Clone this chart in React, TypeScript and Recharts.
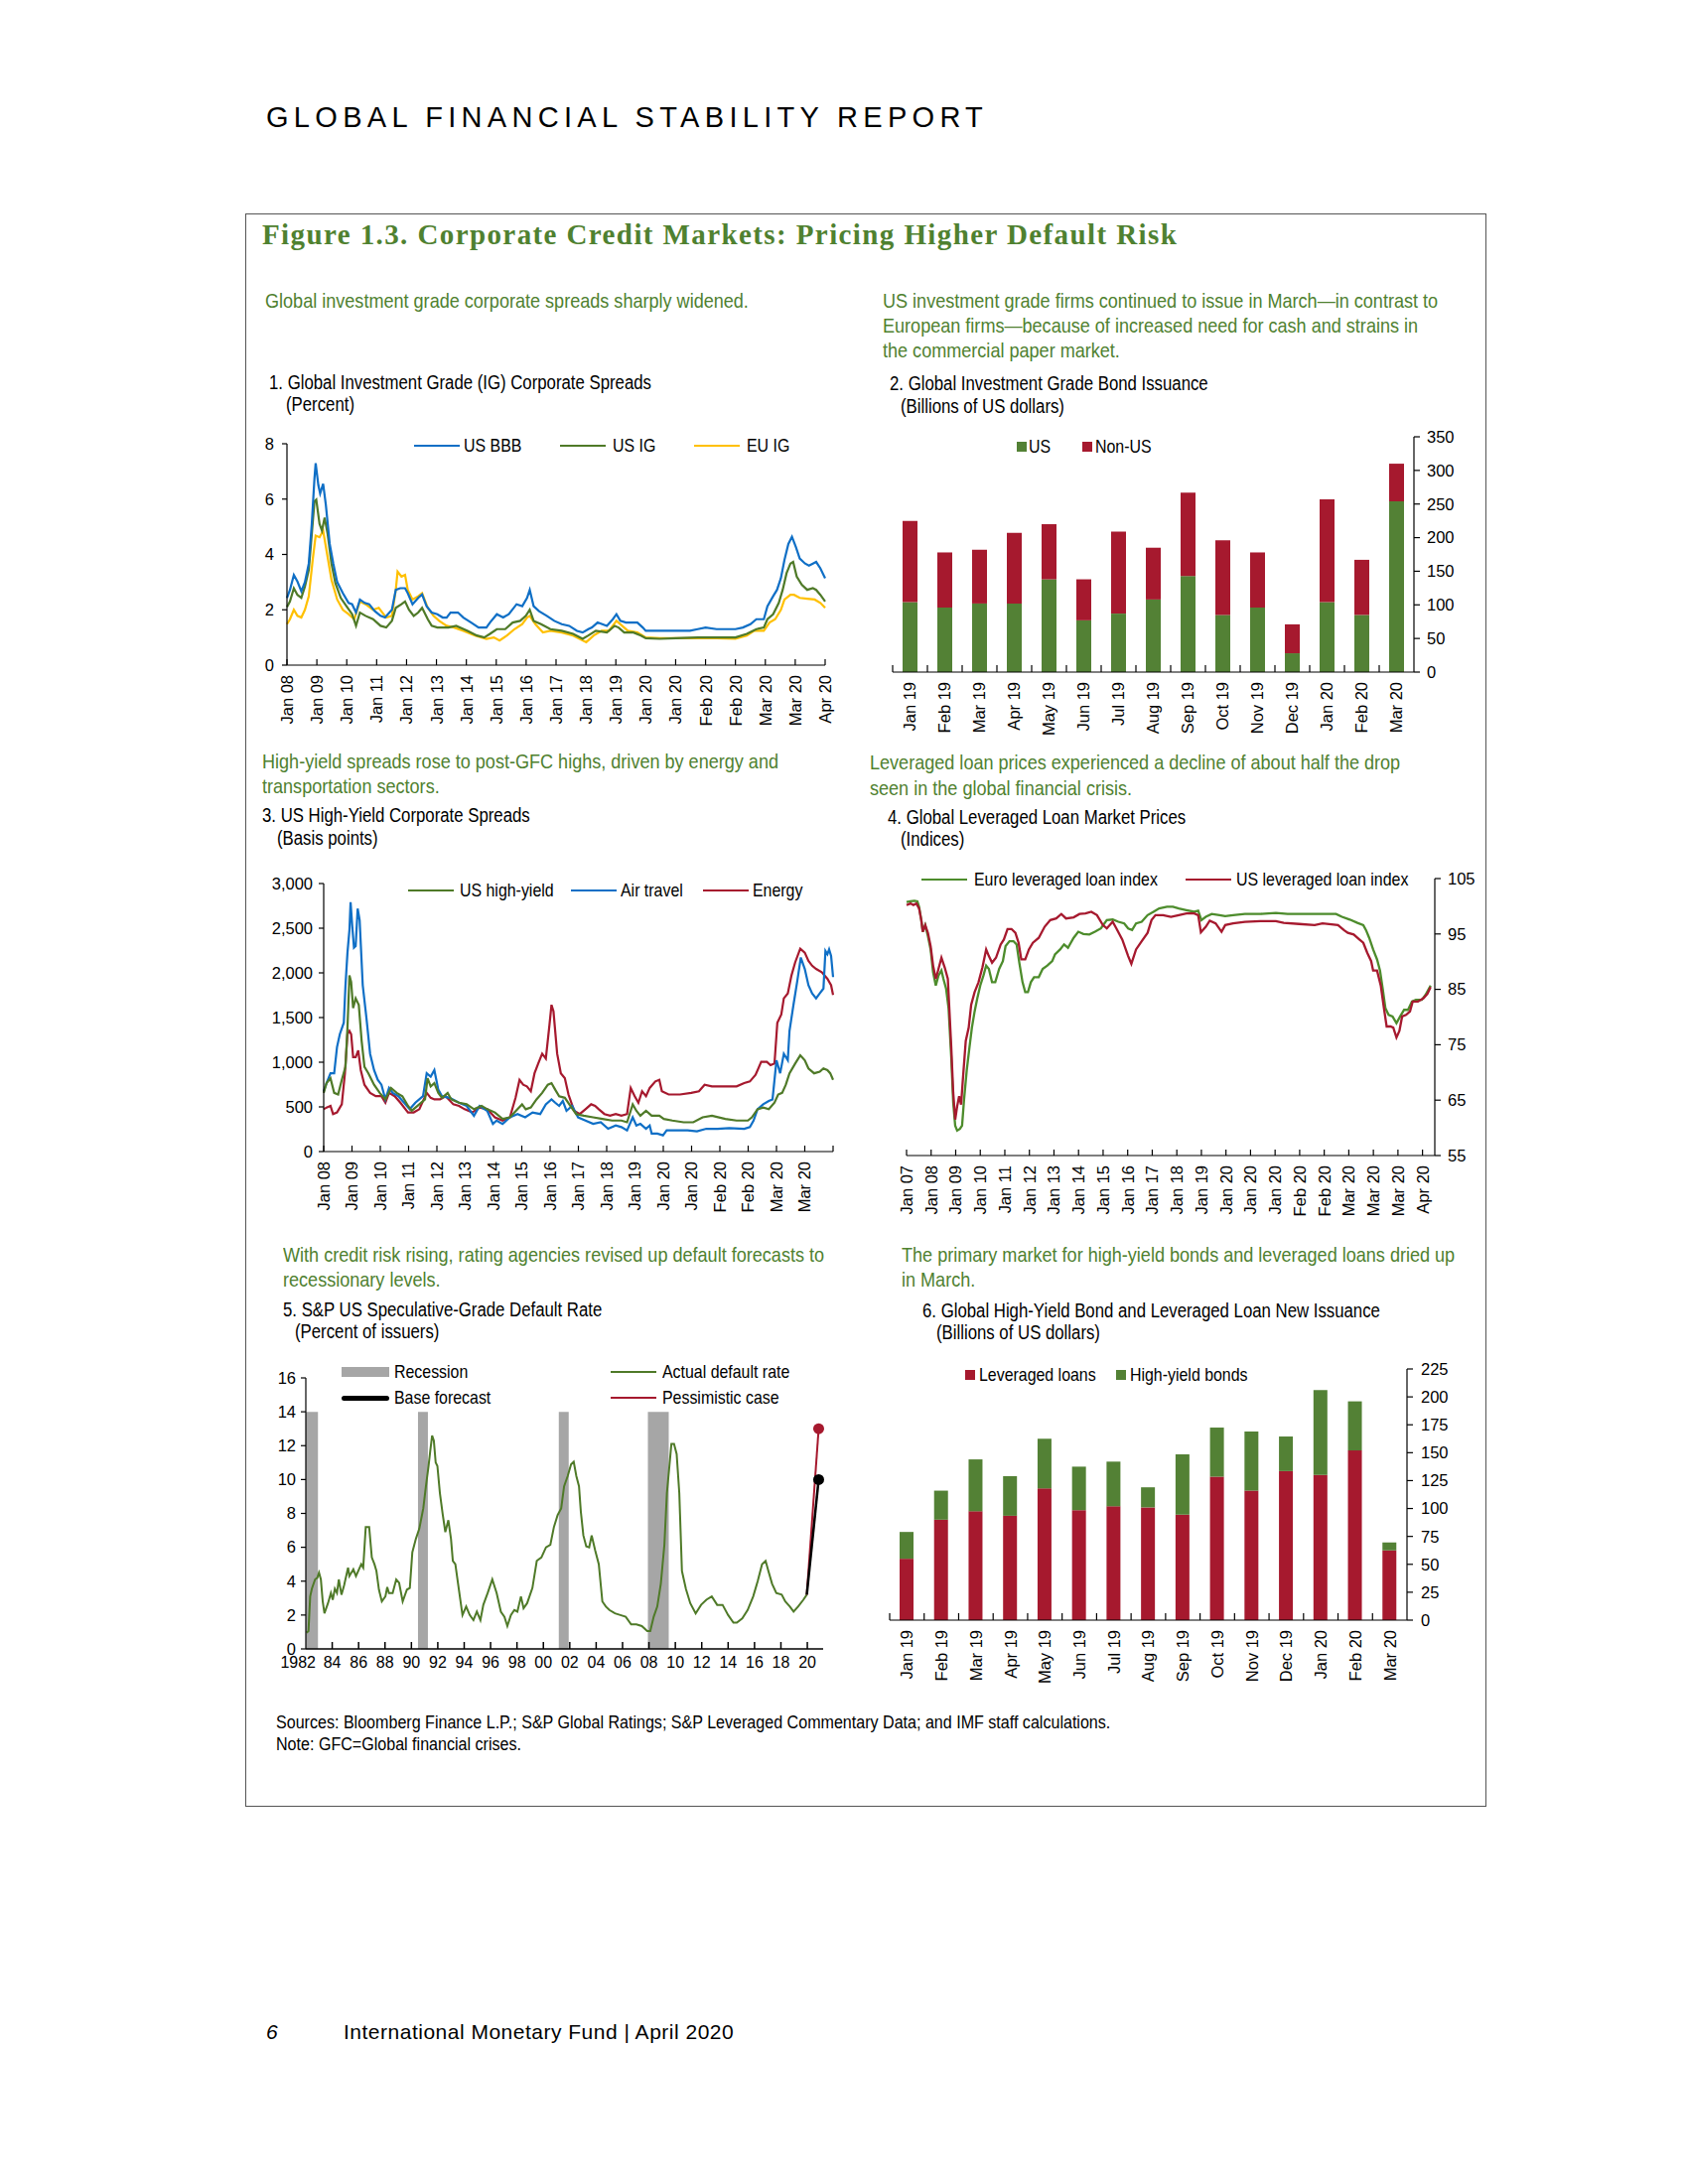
import React from 'react';
import { LineChart, Line, XAxis, YAxis, BarChart, Bar, ReferenceArea } from 'recharts';

const FONT = '"Liberation Sans", Arial, sans-serif';
const TXT_GREEN = '#4f8130';
const RED = '#a6192e';
const BAR_GREEN = '#538135';
const OLIVE = '#4f7a28';
const BLUE = '#0f6fc6';
const YELLOW = '#ffc000';
const EURO_GREEN = '#4d8c2c';
const NARROW = 0.86;

// ---------- Panel 1 ----------
const p1Labels = ['Jan 08','Jan 09','Jan 10','Jan 11','Jan 12','Jan 13','Jan 14','Jan 15','Jan 16','Jan 17','Jan 18','Jan 19','Jan 20','Jan 20','Feb 20','Feb 20','Mar 20','Mar 20','Apr 20'];
const usBbb: [number, number][] = [[0,2.43],[0.1,2.72],[0.23,3.26],[0.35,3.02],[0.48,2.67],[0.6,3.0],[0.73,3.67],[0.83,5.1],[0.92,6.75],[0.96,7.3],[1.05,6.5],[1.11,6.2],[1.21,6.55],[1.3,5.8],[1.43,4.38],[1.55,3.67],[1.68,3.0],[1.87,2.6],[2.06,2.25],[2.18,2.2],[2.31,1.9],[2.44,2.37],[2.6,2.25],[2.75,2.2],[2.94,1.95],[3.13,1.78],[3.28,1.72],[3.51,2.0],[3.64,2.72],[3.79,2.78],[3.95,2.78],[4.04,2.6],[4.2,2.2],[4.39,2.43],[4.52,2.55],[4.67,2.13],[4.84,1.9],[5.03,1.84],[5.21,1.72],[5.34,1.72],[5.47,1.9],[5.72,1.9],[5.9,1.72],[6.16,1.54],[6.41,1.36],[6.67,1.36],[6.79,1.54],[7.02,1.84],[7.23,1.72],[7.42,1.84],[7.68,2.2],[7.87,2.13],[8.03,2.43],[8.12,2.72],[8.25,2.13],[8.43,1.95],[8.69,1.78],[8.94,1.6],[9.19,1.48],[9.44,1.42],[9.7,1.24],[9.89,1.18],[10.08,1.3],[10.2,1.36],[10.39,1.54],[10.7,1.42],[10.9,1.66],[11.02,1.84],[11.15,1.6],[11.34,1.54],[11.53,1.54],[11.72,1.54],[11.9,1.36],[12.0,1.24],[12.47,1.24],[13.02,1.24],[13.48,1.24],[13.74,1.3],[14.0,1.36],[14.37,1.3],[14.75,1.3],[15.0,1.3],[15.25,1.36],[15.5,1.48],[15.7,1.66],[15.95,1.66],[16.07,2.13],[16.26,2.49],[16.39,2.72],[16.52,3.14],[16.64,3.8],[16.77,4.38],[16.89,4.64],[17.02,4.27],[17.15,3.85],[17.33,3.67],[17.46,3.6],[17.59,3.67],[17.7,3.73],[17.84,3.5],[18.0,3.14]];
const usIg: [number, number][] = [[0,2.1],[0.1,2.3],[0.23,2.78],[0.35,2.54],[0.48,2.43],[0.6,2.84],[0.73,3.44],[0.83,4.74],[0.92,5.92],[0.98,5.98],[1.09,5.1],[1.17,4.86],[1.26,5.33],[1.36,4.74],[1.49,3.67],[1.62,2.96],[1.8,2.43],[1.99,2.13],[2.18,1.84],[2.31,1.42],[2.44,1.9],[2.63,1.78],[2.88,1.66],[3.13,1.42],[3.32,1.36],[3.51,1.6],[3.64,2.07],[3.83,2.2],[3.95,2.3],[4.08,2.0],[4.24,1.78],[4.39,1.9],[4.52,2.07],[4.71,1.66],[4.84,1.42],[5.03,1.36],[5.4,1.36],[5.66,1.42],[6.04,1.24],[6.35,1.07],[6.6,1.0],[6.79,1.13],[7.02,1.3],[7.3,1.3],[7.55,1.54],[7.8,1.6],[7.99,1.78],[8.12,2.0],[8.25,1.6],[8.5,1.48],[8.81,1.3],[9.19,1.24],[9.57,1.13],[9.89,0.95],[10.08,1.07],[10.33,1.24],[10.7,1.18],[10.96,1.42],[11.09,1.36],[11.28,1.18],[11.59,1.18],[11.84,1.07],[12.0,0.97],[12.47,0.95],[13.02,0.97],[13.74,1.0],[14.37,1.0],[15.0,1.0],[15.38,1.13],[15.7,1.3],[15.95,1.36],[16.07,1.66],[16.26,1.84],[16.45,2.25],[16.58,2.72],[16.71,3.32],[16.84,3.67],[16.93,3.73],[17.05,3.2],[17.22,2.9],[17.4,2.72],[17.59,2.78],[17.7,2.72],[17.84,2.54],[18.0,2.3]];
const euIg: [number, number][] = [[0,1.48],[0.1,1.66],[0.23,2.0],[0.35,1.78],[0.48,1.72],[0.6,2.0],[0.73,2.49],[0.86,3.8],[0.96,4.68],[1.09,4.62],[1.21,4.86],[1.34,4.03],[1.49,3.08],[1.68,2.37],[1.87,2.0],[2.06,1.84],[2.25,1.66],[2.44,2.3],[2.63,2.2],[2.88,2.0],[3.07,2.07],[3.32,1.72],[3.51,1.78],[3.64,2.72],[3.7,3.38],[3.83,3.2],[3.95,3.26],[4.04,2.72],[4.2,2.37],[4.39,2.49],[4.52,2.6],[4.71,2.07],[4.9,1.78],[5.09,1.6],[5.34,1.42],[5.59,1.36],[5.9,1.24],[6.29,1.07],[6.67,0.95],[6.92,1.0],[7.11,0.89],[7.36,1.07],[7.61,1.3],[7.87,1.48],[8.03,1.72],[8.12,1.78],[8.31,1.48],[8.56,1.18],[8.81,1.24],[9.19,1.18],[9.57,1.07],[10.01,0.83],[10.26,1.07],[10.52,1.24],[10.77,1.24],[11.02,1.6],[11.21,1.42],[11.4,1.24],[11.72,1.18],[12.0,1.0],[12.47,0.97],[13.02,0.97],[13.74,0.97],[14.37,0.97],[15.0,0.95],[15.38,1.07],[15.63,1.24],[15.95,1.24],[16.14,1.54],[16.33,1.66],[16.52,2.0],[16.64,2.37],[16.84,2.54],[16.96,2.54],[17.15,2.43],[17.4,2.4],[17.65,2.37],[17.84,2.25],[18.0,2.07]];

// ---------- Panel 2 ----------
const p2Months = ['Jan 19','Feb 19','Mar 19','Apr 19','May 19','Jun 19','Jul 19','Aug 19','Sep 19','Oct 19','Nov 19','Dec 19','Jan 20','Feb 20','Mar 20'];
const p2Us = [104, 96, 102, 102, 138, 77, 87, 108, 143, 85, 96, 28, 104, 85, 254];
const p2NonUs = [121, 82, 80, 105, 82, 61, 122, 77, 124, 111, 82, 43, 153, 82, 56];

// ---------- Panel 3 ----------
const p3Labels = ['Jan 08','Jan 09','Jan 10','Jan 11','Jan 12','Jan 13','Jan 14','Jan 15','Jan 16','Jan 17','Jan 18','Jan 19','Jan 20','Jan 20','Feb 20','Feb 20','Mar 20','Mar 20',''];
const usHy: [number, number][] = [[0,657],[0.1,766],[0.24,821],[0.37,657],[0.51,639],[0.64,803],[0.77,949],[0.84,1387],[0.91,1971],[0.97,1898],[1.04,1606],[1.13,1715],[1.24,1642],[1.34,1241],[1.44,949],[1.58,876],[1.78,748],[1.98,657],[2.18,584],[2.38,712],[2.58,657],[2.78,620],[2.98,511],[3.11,456],[3.38,529],[3.58,584],[3.67,821],[3.78,730],[3.91,766],[4.05,657],[4.18,602],[4.38,657],[4.51,584],[4.78,547],[5.05,529],[5.31,474],[5.58,511],[5.78,474],[6.05,438],[6.32,365],[6.58,383],[6.85,474],[7.01,529],[7.14,474],[7.32,493],[7.52,584],[7.72,657],[7.92,748],[8.05,766],[8.18,693],[8.32,620],[8.52,602],[8.72,511],[8.92,420],[9.19,401],[9.52,383],[9.85,365],[10.19,347],[10.52,347],[10.72,328],[10.92,529],[11.05,456],[11.19,401],[11.39,456],[11.59,401],[11.86,401],[12.02,365],[12.32,347],[12.72,328],[13.06,328],[13.39,383],[13.72,401],[14.19,365],[14.59,347],[14.99,347],[15.13,383],[15.33,474],[15.53,493],[15.73,474],[15.93,547],[16.06,639],[16.2,657],[16.33,748],[16.46,876],[16.66,985],[16.84,1077],[17.0,1022],[17.13,931],[17.33,876],[17.53,894],[17.66,931],[17.8,912],[17.9,876],[18.0,803]];
const airTravel: [number, number][] = [[0,675],[0.1,766],[0.24,876],[0.37,876],[0.47,1168],[0.57,1314],[0.71,1442],[0.77,1861],[0.84,2226],[0.91,2482],[0.95,2792],[1.01,2518],[1.07,2281],[1.13,2299],[1.2,2719],[1.27,2591],[1.38,1861],[1.51,1496],[1.64,1095],[1.78,912],[1.91,803],[2.04,748],[2.18,584],[2.31,712],[2.44,657],[2.64,620],[2.84,547],[3.04,474],[3.24,547],[3.51,620],[3.64,876],[3.78,839],[3.91,912],[4.05,693],[4.18,620],[4.45,602],[4.78,547],[5.05,511],[5.31,401],[5.51,511],[5.78,456],[5.98,310],[6.11,347],[6.32,310],[6.58,383],[6.85,420],[7.12,383],[7.38,438],[7.65,420],[7.85,529],[8.05,584],[8.18,547],[8.32,511],[8.45,566],[8.58,456],[8.78,511],[8.99,383],[9.25,347],[9.52,310],[9.79,328],[10.05,255],[10.32,292],[10.52,274],[10.72,237],[10.92,383],[11.05,292],[11.19,310],[11.39,255],[11.52,292],[11.59,201],[11.79,201],[11.99,182],[12.12,237],[12.46,237],[12.86,237],[13.19,226],[13.52,255],[13.92,255],[14.33,263],[14.86,255],[15.06,274],[15.19,347],[15.33,474],[15.53,529],[15.73,566],[15.86,584],[16.0,1022],[16.13,876],[16.26,1095],[16.4,1022],[16.46,1350],[16.6,1642],[16.73,1898],[16.86,2172],[17.0,2044],[17.13,1861],[17.26,1770],[17.4,1715],[17.53,1770],[17.66,1825],[17.73,2245],[17.8,2208],[17.86,2263],[17.93,2190],[18.0,1953]];
const energy: [number, number][] = [[0,474],[0.1,493],[0.24,511],[0.33,420],[0.47,438],[0.64,529],[0.75,876],[0.84,1314],[0.91,1350],[0.97,1314],[1.04,1058],[1.13,1058],[1.22,1131],[1.31,912],[1.44,748],[1.64,657],[1.84,620],[2.04,620],[2.18,547],[2.31,657],[2.51,620],[2.71,547],[2.98,438],[3.18,438],[3.38,474],[3.64,657],[3.78,602],[3.91,584],[4.11,584],[4.31,620],[4.58,529],[4.78,511],[4.98,474],[5.25,438],[5.51,493],[5.78,474],[6.05,383],[6.32,347],[6.58,383],[6.78,602],[6.92,803],[7.05,748],[7.18,730],[7.32,675],[7.45,876],[7.58,985],[7.72,1095],[7.85,1040],[7.98,1423],[8.05,1642],[8.12,1569],[8.25,1095],[8.38,876],[8.52,821],[8.65,639],[8.85,456],[9.05,420],[9.25,474],[9.45,529],[9.59,511],[9.72,474],[9.92,420],[10.12,401],[10.32,420],[10.52,401],[10.72,420],[10.85,712],[10.99,620],[11.12,547],[11.25,675],[11.39,620],[11.52,712],[11.72,785],[11.86,803],[11.95,675],[12.19,639],[12.59,639],[12.99,657],[13.26,675],[13.46,748],[13.72,730],[14.19,730],[14.59,730],[14.86,766],[15.06,785],[15.26,858],[15.46,1004],[15.66,1004],[15.79,967],[15.93,985],[16.03,1442],[16.17,1533],[16.26,1715],[16.4,1770],[16.53,1971],[16.66,2117],[16.84,2270],[17.0,2226],[17.13,2135],[17.26,2080],[17.4,2044],[17.6,2007],[17.8,1934],[17.93,1861],[18.0,1752]];

// ---------- Panel 4 ----------
const p4Labels = ['Jan 07','Jan 08','Jan 09','Jan 10','Jan 11','Jan 12','Jan 13','Jan 14','Jan 15','Jan 16','Jan 17','Jan 18','Jan 19','Jan 20','Jan 20','Jan 20','Feb 20','Feb 20','Mar 20','Mar 20','Mar 20','Apr 20'];
const euroLoan: [number, number][] = [[0,100.75],[0.16,100.9],[0.32,101.0],[0.44,100.9],[0.51,99.9],[0.6,97.5],[0.66,95.4],[0.76,96.6],[0.87,94.6],[0.98,92.2],[1.08,88.1],[1.19,85.7],[1.3,87.5],[1.42,88.4],[1.5,86.9],[1.61,85.1],[1.71,81.6],[1.82,72.7],[1.9,64.5],[1.98,60.4],[2.06,59.5],[2.17,59.8],[2.26,60.4],[2.34,65.1],[2.45,70.4],[2.56,74.5],[2.66,78.1],[2.77,81.0],[2.88,83.4],[3.0,85.7],[3.13,87.5],[3.24,89.3],[3.35,88.7],[3.48,86.3],[3.61,86.3],[3.77,88.7],[3.92,90.1],[4.03,92.8],[4.19,93.7],[4.35,93.7],[4.48,93.1],[4.59,89.8],[4.72,86.3],[4.83,84.5],[4.94,84.5],[5.06,86.3],[5.19,87.2],[5.38,87.2],[5.54,88.7],[5.73,89.3],[5.93,90.1],[6.04,91.3],[6.25,92.2],[6.41,93.1],[6.57,92.5],[6.8,94.3],[6.99,95.4],[7.2,95.0],[7.44,94.9],[7.67,95.4],[7.91,96.0],[8.15,97.5],[8.39,97.6],[8.62,97.2],[8.86,96.9],[9.02,96.0],[9.18,95.7],[9.34,96.9],[9.57,97.2],[9.81,98.4],[10.05,99.0],[10.28,99.6],[10.6,99.9],[10.84,99.9],[11.08,99.6],[11.39,99.3],[11.71,99.0],[11.87,99.2],[12.0,97.5],[12.18,98.1],[12.42,98.6],[12.74,98.4],[12.97,98.2],[13.29,98.4],[13.77,98.6],[14.4,98.6],[15.03,98.8],[15.51,98.6],[16.14,98.6],[16.93,98.6],[17.48,98.6],[17.72,98.1],[18.04,97.6],[18.35,97.0],[18.59,96.6],[18.7,95.7],[18.83,94.3],[18.99,92.2],[19.15,90.4],[19.27,88.4],[19.38,85.1],[19.49,81.6],[19.62,80.4],[19.78,80.1],[19.94,78.9],[20.09,80.1],[20.25,81.3],[20.41,81.3],[20.57,82.8],[20.73,83.1],[20.97,83.1],[21.12,84.0],[21.33,85.7]];
const usLoan: [number, number][] = [[0,100.2],[0.16,100.5],[0.28,100.2],[0.4,100.5],[0.51,99.6],[0.6,97.5],[0.66,95.4],[0.76,96.6],[0.87,95.2],[0.98,92.8],[1.08,89.3],[1.19,86.9],[1.3,88.7],[1.42,90.7],[1.55,89.0],[1.68,86.9],[1.74,81.6],[1.82,74.5],[1.9,66.3],[1.98,61.5],[2.06,63.9],[2.14,65.7],[2.22,64.2],[2.29,68.6],[2.41,75.7],[2.53,78.1],[2.63,82.2],[2.77,84.5],[2.93,86.3],[3.09,89.0],[3.24,92.2],[3.35,91.0],[3.48,89.8],[3.64,90.7],[3.83,93.1],[3.96,94.0],[4.11,95.9],[4.27,95.9],[4.43,95.2],[4.56,93.4],[4.67,90.4],[4.83,90.4],[4.98,92.2],[5.14,93.4],[5.38,94.3],[5.62,96.3],[5.85,97.5],[6.09,97.8],[6.3,98.6],[6.49,97.8],[6.8,98.0],[7.04,98.6],[7.28,98.7],[7.52,99.0],[7.75,98.4],[7.99,96.6],[8.15,96.0],[8.39,97.2],[8.54,96.0],[8.78,94.0],[9.02,91.0],[9.15,89.6],[9.34,92.2],[9.57,93.7],[9.81,95.2],[9.97,97.5],[10.13,98.4],[10.44,98.4],[10.76,98.1],[11.08,98.4],[11.39,98.7],[11.71,98.7],[11.87,98.4],[11.98,95.3],[12.18,96.3],[12.34,97.4],[12.58,96.9],[12.82,95.4],[12.97,96.6],[13.29,96.9],[13.77,97.2],[14.4,97.3],[15.03,97.3],[15.35,97.0],[15.98,96.8],[16.61,96.6],[16.93,96.9],[17.56,96.6],[17.8,95.7],[17.96,95.2],[18.2,94.9],[18.43,94.0],[18.59,93.4],[18.75,91.6],[18.91,90.1],[18.99,88.4],[19.15,88.4],[19.3,85.7],[19.43,81.6],[19.54,78.3],[19.7,78.3],[19.81,78.1],[19.94,76.3],[20.06,77.5],[20.17,80.1],[20.33,80.4],[20.49,81.0],[20.6,82.8],[20.81,82.8],[21.04,83.4],[21.2,84.2],[21.33,85.4]];

// ---------- Panel 5 ----------
const p5Ticks = [1982,1984,1986,1988,1990,1992,1994,1996,1998,2000,2002,2004,2006,2008,2010,2012,2014,2016,2018,2020];
const p5Labels = ['1982','84','86','88','90','92','94','96','98','00','02','04','06','08','10','12','14','16','18','20'];
const recessionStart = [1982.0, 1990.5, 2001.17, 2007.92];
const recessionEnd = [1982.92, 1991.25, 2001.92, 2009.5];
const defaultRate: [number, number][] = [[1982.05,0.96],[1982.2,1.06],[1982.33,3.1],[1982.46,3.56],[1982.7,4.1],[1982.87,4.2],[1983.0,4.5],[1983.14,4.1],[1983.28,2.8],[1983.41,2.1],[1983.68,2.7],[1983.9,3.3],[1984.04,2.9],[1984.2,3.55],[1984.36,3.3],[1984.5,4.1],[1984.7,3.2],[1984.9,3.75],[1985.2,4.8],[1985.3,4.3],[1985.6,4.7],[1985.8,4.3],[1986.2,5.0],[1986.35,4.8],[1986.54,7.2],[1986.8,7.2],[1987.0,5.4],[1987.2,5.0],[1987.35,4.6],[1987.54,3.5],[1987.76,2.8],[1988.03,3.1],[1988.17,3.65],[1988.3,3.3],[1988.58,3.3],[1988.85,4.1],[1989.07,3.9],[1989.34,2.8],[1989.66,3.5],[1989.88,3.6],[1990.07,5.7],[1990.34,6.5],[1990.6,7.1],[1990.9,8.3],[1991.1,9.6],[1991.3,10.8],[1991.43,11.7],[1991.57,12.6],[1991.7,12.3],[1991.84,11.0],[1991.97,10.8],[1992.16,9.2],[1992.38,7.9],[1992.57,6.9],[1992.8,7.6],[1993.0,6.5],[1993.14,5.2],[1993.33,5.0],[1993.6,3.5],[1993.87,2.0],[1994.15,2.5],[1994.42,2.0],[1994.7,1.7],[1994.96,2.2],[1995.23,1.7],[1995.45,2.6],[1995.78,3.3],[1996.13,4.1],[1996.46,3.3],[1996.78,2.2],[1997.05,1.9],[1997.27,1.35],[1997.54,2.0],[1997.8,2.3],[1998.03,2.2],[1998.3,3.1],[1998.5,2.4],[1998.77,2.7],[1999.17,3.6],[1999.5,5.2],[1999.85,5.4],[2000.2,6.0],[2000.53,6.15],[2000.8,7.2],[2001.08,7.9],[2001.35,8.3],[2001.57,9.6],[2001.84,10.2],[2002.1,10.9],[2002.3,11.05],[2002.5,10.2],[2002.7,9.6],[2002.84,8.1],[2003.03,6.7],[2003.25,6.05],[2003.47,6.0],[2003.66,6.7],[2003.93,5.8],[2004.2,5.0],[2004.47,2.8],[2004.74,2.5],[2005.0,2.3],[2005.42,2.1],[2005.83,2.0],[2006.24,1.9],[2006.65,1.45],[2007.05,1.45],[2007.46,1.35],[2007.87,1.05],[2008.1,1.05],[2008.36,1.9],[2008.63,2.5],[2008.9,3.85],[2009.17,6.15],[2009.36,9.2],[2009.55,10.8],[2009.7,12.1],[2009.9,12.1],[2010.1,11.5],[2010.3,9.2],[2010.5,4.6],[2010.8,3.55],[2011.13,2.7],[2011.54,2.1],[2011.95,2.6],[2012.35,2.9],[2012.76,3.1],[2013.17,2.6],[2013.58,2.6],[2014.0,2.0],[2014.4,1.55],[2014.66,1.55],[2015.07,1.8],[2015.48,2.3],[2015.9,3.1],[2016.24,4.0],[2016.57,5.0],[2016.84,5.2],[2017.05,4.6],[2017.33,3.85],[2017.65,3.3],[2018.06,3.2],[2018.33,2.8],[2018.68,2.5],[2018.96,2.2],[2019.3,2.5],[2019.7,2.9],[2019.96,3.2]];
const baseForecast: [number, number][] = [[2019.96,3.2],[2020.86,10.0]];
const pessimistic: [number, number][] = [[2019.96,3.2],[2020.86,13.0]];

// ---------- Panel 6 ----------
const p6Months = ['Jan 19','Feb 19','Mar 19','Apr 19','May 19','Jun 19','Jul 19','Aug 19','Sep 19','Oct 19','Nov 19','Dec 19','Jan 20','Feb 20','Mar 20'];
const p6Loans = [55, 90, 97.5, 93.5, 118, 98.5, 102, 101, 94.5, 128.5, 116, 133.5, 130, 152, 62.5];
const p6Bonds = [24, 26, 46.5, 35.5, 44.5, 39, 40, 18, 54, 44, 53, 31, 76, 44, 7];

const toXY = (arr: [number, number][]) => arr.map(([x, v]) => ({ x, v }));

const T = ({ x, y, size = 17, color = '#000', children, style = {} }: any) => (
  <div style={{ position: 'absolute', left: x, top: y - size * 0.6, fontSize: size, lineHeight: `${size * 1.2}px`, color, fontFamily: FONT, whiteSpace: 'nowrap', transform: `scaleX(${NARROW})`, transformOrigin: 'left center', ...style }}>{children}</div>
);

const LegLine = ({ x, y, w = 46, color, thick = 2.5, round = false }: any) => (
  <div style={{ position: 'absolute', left: x, top: y - thick / 2, width: w, height: thick, background: color, borderRadius: round ? thick : 0 }} />
);
const LegBox = ({ x, y, w = 10, h = 10, color }: any) => (
  <div style={{ position: 'absolute', left: x, top: y - h / 2, width: w, height: h, background: color }} />
);

const TICK_FS = 16.5;

const rotTickNum = (labels: string[], up: number) => (props: any) => {
  const { x, y, payload } = props;
  const label = labels[Math.round(payload.value)] ?? '';
  return (
    <g transform={`translate(${x},${y})`}>
      <line x1={0} y1={0} x2={0} y2={-up} stroke="#000" strokeWidth={1.2} />
      <text transform="rotate(-90)" x={-10} y={0} dy="0.36em" textAnchor="end" fontSize={TICK_FS} fontFamily={FONT} fill="#000">{label}</text>
    </g>
  );
};

const rotTickCat = (band: number, up: number) => (props: any) => {
  const { x, y, payload } = props;
  return (
    <g transform={`translate(${x},${y})`}>
      <line x1={-band / 2} y1={0} x2={-band / 2} y2={-up} stroke="#000" strokeWidth={1.2} />
      <text transform="rotate(-90)" x={-10} y={0} dy="0.36em" textAnchor="end" fontSize={TICK_FS} fontFamily={FONT} fill="#000">{payload.value}</text>
    </g>
  );
};

const yearTick = (props: any) => {
  const { x, y, payload } = props;
  const i = p5Ticks.indexOf(payload.value);
  const first = i === 0;
  return (
    <g transform={`translate(${x},${y})`}>
      {!first && <line x1={0} y1={0} x2={0} y2={-7} stroke="#000" strokeWidth={1.5} />}
      <text x={first ? 10 : 0} y={19} textAnchor={first ? 'end' : 'middle'} fontSize={16} fontFamily={FONT} fill="#000">{p5Labels[i]}</text>
    </g>
  );
};

const yTickStyle = { fontSize: TICK_FS, fill: '#000', fontFamily: FONT };
const axisStroke = { stroke: '#000', strokeWidth: 1.2 };

const endDot = (color: string) => (props: any) => {
  const { cx, cy, index } = props;
  if (index !== 1) return <g key={`d${index}`} />;
  return <circle key={`d${index}`} cx={cx} cy={cy} r={5.5} fill={color} stroke="none" />;
};

const Panel1 = () => (
  <div style={{ position: 'absolute', left: 229, top: 437 }}>
    <LineChart width={612} height={308} margin={{ top: 10, right: 10, bottom: 5, left: 10 }}>
      <XAxis type="number" dataKey="x" domain={[0, 18]} ticks={p1Labels.map((_, i) => i)} interval={0} tickLine={false} tickSize={0} tickMargin={0} height={70} axisLine={axisStroke} tick={rotTickNum(p1Labels, 6)} />
      <YAxis type="number" domain={[0, 8]} ticks={[0, 2, 4, 6, 8]} width={50} tickSize={5} tickMargin={8} axisLine={axisStroke} tickLine={axisStroke} tick={yTickStyle} />
      <Line data={toXY(euIg)} dataKey="v" stroke={YELLOW} strokeWidth={2.2} dot={false} isAnimationActive={false} />
      <Line data={toXY(usIg)} dataKey="v" stroke={OLIVE} strokeWidth={2.2} dot={false} isAnimationActive={false} />
      <Line data={toXY(usBbb)} dataKey="v" stroke={BLUE} strokeWidth={2.2} dot={false} isAnimationActive={false} />
    </LineChart>
  </div>
);

const p2Data = p2Months.map((m, i) => ({ m, us: p2Us[i], non: p2NonUs[i] }));
const Panel2 = () => (
  <div style={{ position: 'absolute', left: 889, top: 430 }}>
    <BarChart width={600} height={322} data={p2Data} margin={{ top: 10, right: 10, bottom: 5, left: 10 }}>
      <XAxis dataKey="m" interval={0} tickLine={false} tickSize={0} tickMargin={0} height={70} axisLine={axisStroke} tick={rotTickCat(35, 7)} />
      <YAxis orientation="right" domain={[0, 350]} ticks={[0, 50, 100, 150, 200, 250, 300, 350]} width={55} tickSize={6} tickMargin={7} axisLine={axisStroke} tickLine={axisStroke} tick={{ ...yTickStyle, textAnchor: 'start' }} />
      <Bar dataKey="us" stackId="a" fill={BAR_GREEN} barSize={15} isAnimationActive={false} />
      <Bar dataKey="non" stackId="a" fill={RED} barSize={15} isAnimationActive={false} />
    </BarChart>
  </div>
);

const Panel3 = () => (
  <div style={{ position: 'absolute', left: 256, top: 880 }}>
    <LineChart width={593} height={355} margin={{ top: 10, right: 10, bottom: 5, left: 10 }}>
      <XAxis type="number" dataKey="x" domain={[0, 18]} ticks={p3Labels.map((_, i) => i)} interval={0} tickLine={false} tickSize={0} tickMargin={0} height={70} axisLine={axisStroke} tick={rotTickNum(p3Labels, 6)} />
      <YAxis type="number" domain={[0, 3000]} ticks={[0, 500, 1000, 1500, 2000, 2500, 3000]} width={60} tickSize={5} tickMargin={6} axisLine={axisStroke} tickLine={axisStroke} tick={yTickStyle} tickFormatter={(v: number) => v.toLocaleString('en-US')} />
      <Line data={toXY(energy)} dataKey="v" stroke={RED} strokeWidth={2.2} dot={false} isAnimationActive={false} />
      <Line data={toXY(airTravel)} dataKey="v" stroke={BLUE} strokeWidth={2.2} dot={false} isAnimationActive={false} />
      <Line data={toXY(usHy)} dataKey="v" stroke={OLIVE} strokeWidth={2.2} dot={false} isAnimationActive={false} />
    </LineChart>
  </div>
);

const Panel4 = () => (
  <div style={{ position: 'absolute', left: 903, top: 875 }}>
    <LineChart width={602} height={364} margin={{ top: 10, right: 10, bottom: 5, left: 10 }}>
      <XAxis type="number" dataKey="x" domain={[0, 21.5]} ticks={p4Labels.map((_, i) => i)} interval={0} tickLine={false} tickSize={0} tickMargin={0} height={70} axisLine={axisStroke} tick={rotTickNum(p4Labels, 6)} />
      <YAxis orientation="right" type="number" domain={[55, 105]} ticks={[55, 65, 75, 85, 95, 105]} width={50} tickSize={6} tickMargin={7} axisLine={axisStroke} tickLine={axisStroke} tick={{ ...yTickStyle, textAnchor: 'start' }} />
      <Line data={toXY(euroLoan)} dataKey="v" stroke={EURO_GREEN} strokeWidth={2.3} dot={false} isAnimationActive={false} />
      <Line data={toXY(usLoan)} dataKey="v" stroke={RED} strokeWidth={2.3} dot={false} isAnimationActive={false} />
    </LineChart>
  </div>
);

const Panel5 = () => (
  <div style={{ position: 'absolute', left: 238, top: 1378 }}>
    <LineChart width={601} height={328} margin={{ top: 10, right: 10, bottom: 5, left: 10 }}>
      <XAxis type="number" dataKey="x" domain={[1982, 2021.2]} ticks={p5Ticks} interval={0} tickLine={false} tickSize={0} tickMargin={0} height={40} axisLine={{ stroke: '#000', strokeWidth: 1.5 }} tick={yearTick} />
      <YAxis type="number" domain={[0, 16]} ticks={[0, 2, 4, 6, 8, 10, 12, 14, 16]} width={60} tickSize={5} tickMargin={5} axisLine={axisStroke} tickLine={axisStroke} tick={yTickStyle} />
      {recessionStart.map((s, i) => (
        <ReferenceArea key={i} x1={s} x2={recessionEnd[i]} y1={0} y2={14} fill="#a6a6a6" fillOpacity={1} stroke="none" ifOverflow="hidden" />
      ))}
      <Line data={toXY(defaultRate)} dataKey="v" stroke={OLIVE} strokeWidth={2} dot={false} isAnimationActive={false} />
      <Line data={toXY(pessimistic)} dataKey="v" stroke={RED} strokeWidth={2} dot={endDot(RED)} isAnimationActive={false} />
      <Line data={toXY(baseForecast)} dataKey="v" stroke="#000" strokeWidth={2.5} dot={endDot('#000')} isAnimationActive={false} />
    </LineChart>
  </div>
);

const p6Data = p6Months.map((m, i) => ({ m, loans: p6Loans[i], bonds: p6Bonds[i] }));
const Panel6 = () => (
  <div style={{ position: 'absolute', left: 886, top: 1369 }}>
    <BarChart width={596} height={338} data={p6Data} margin={{ top: 10, right: 10, bottom: 5, left: 10 }}>
      <XAxis dataKey="m" interval={0} tickLine={false} tickSize={0} tickMargin={0} height={70} axisLine={axisStroke} tick={rotTickCat(34.73, 7)} />
      <YAxis orientation="right" domain={[0, 225]} ticks={[0, 25, 50, 75, 100, 125, 150, 175, 200, 225]} width={55} tickSize={6} tickMargin={8} axisLine={axisStroke} tickLine={axisStroke} tick={{ ...yTickStyle, textAnchor: 'start' }} />
      <Bar dataKey="loans" stackId="a" fill={RED} barSize={14} isAnimationActive={false} />
      <Bar dataKey="bonds" stackId="a" fill={BAR_GREEN} barSize={14} isAnimationActive={false} />
    </BarChart>
  </div>
);

export default function App() {
  const sub = 21;
  const ttl = 19.5;
  const leg = 18.5;
  return (
    <div style={{ position: 'absolute', left: 0, top: 0, width: 1700, height: 2200, background: '#fff', overflow: 'hidden' }}>
      <div style={{ position: 'absolute', left: 268, top: 99, fontFamily: FONT, fontSize: 29, letterSpacing: 5.3, lineHeight: '38px', color: '#000', whiteSpace: 'nowrap' }}>GLOBAL FINANCIAL STABILITY REPORT</div>

      <div style={{ position: 'absolute', left: 247, top: 215, width: 1250, height: 1605, border: '1px solid #555', boxSizing: 'border-box' }} />

      <div style={{ position: 'absolute', left: 264, top: 217, fontFamily: '"Liberation Serif", "Times New Roman", serif', fontWeight: 'bold', fontSize: 29, letterSpacing: 1.4, lineHeight: '38px', color: TXT_GREEN, whiteSpace: 'nowrap' }}>Figure 1.3. Corporate Credit Markets: Pricing Higher Default Risk</div>

      {/* Panel 1 texts */}
      <T x={267} y={303} size={sub} color={TXT_GREEN}>Global investment grade corporate spreads sharply widened.</T>
      <T x={271} y={386} size={ttl}>1. Global Investment Grade (IG) Corporate Spreads</T>
      <T x={288} y={408} size={ttl}>(Percent)</T>
      <LegLine x={417} y={449} color={BLUE} />
      <T x={467} y={449} size={leg}>US BBB</T>
      <LegLine x={564} y={449} color={OLIVE} />
      <T x={617} y={449} size={leg}>US IG</T>
      <LegLine x={699} y={449} color={YELLOW} />
      <T x={752} y={449} size={leg}>EU IG</T>
      <Panel1 />

      {/* Panel 2 texts */}
      <T x={889} y={303} size={sub} color={TXT_GREEN}>US investment grade firms continued to issue in March—in contrast to</T>
      <T x={889} y={328} size={sub} color={TXT_GREEN}>European firms—because of increased need for cash and strains in</T>
      <T x={889} y={353} size={sub} color={TXT_GREEN}>the commercial paper market.</T>
      <T x={896} y={387} size={ttl}>2. Global Investment Grade Bond Issuance</T>
      <T x={907} y={410} size={ttl}>(Billions of US dollars)</T>
      <LegBox x={1024} y={450} color={BAR_GREEN} />
      <T x={1036} y={450} size={leg}>US</T>
      <LegBox x={1090} y={450} color={RED} />
      <T x={1103} y={450} size={leg}>Non-US</T>
      <Panel2 />

      {/* Panel 3 texts */}
      <T x={264} y={767} size={sub} color={TXT_GREEN}>High-yield spreads rose to post-GFC highs, driven by energy and</T>
      <T x={264} y={792} size={sub} color={TXT_GREEN}>transportation  sectors.</T>
      <T x={264} y={822} size={ttl}>3. US High-Yield Corporate Spreads</T>
      <T x={279} y={845} size={ttl}>(Basis points)</T>
      <LegLine x={411} y={897} color={OLIVE} />
      <T x={463} y={897} size={leg}>US high-yield</T>
      <LegLine x={575} y={897} color={BLUE} />
      <T x={625} y={897} size={leg}>Air travel</T>
      <LegLine x={708} y={897} color={RED} />
      <T x={758} y={897} size={leg}>Energy</T>
      <Panel3 />

      {/* Panel 4 texts */}
      <T x={876} y={768} size={sub} color={TXT_GREEN}>Leveraged loan prices experienced a decline of about half the drop</T>
      <T x={876} y={794} size={sub} color={TXT_GREEN}>seen in the global financial crisis.</T>
      <T x={894} y={824} size={ttl}>4. Global Leveraged Loan Market Prices</T>
      <T x={907} y={846} size={ttl}>(Indices)</T>
      <LegLine x={928} y={886} color={EURO_GREEN} />
      <T x={981} y={886} size={leg}>Euro leveraged loan index</T>
      <LegLine x={1194} y={886} color={RED} />
      <T x={1245} y={886} size={leg}>US leveraged loan index</T>
      <Panel4 />

      {/* Panel 5 texts */}
      <T x={285} y={1264} size={sub} color={TXT_GREEN}>With credit risk rising, rating agencies revised up default forecasts to</T>
      <T x={285} y={1289} size={sub} color={TXT_GREEN}>recessionary levels.</T>
      <T x={285} y={1320} size={ttl}>5. S&amp;P US Speculative-Grade Default Rate</T>
      <T x={297} y={1342} size={ttl}>(Percent of issuers)</T>
      <LegBox x={344} y={1382} w={48} h={10} color="#a6a6a6" />
      <T x={397} y={1382} size={leg}>Recession</T>
      <LegLine x={344} y={1408} w={48} thick={5} round color="#000" />
      <T x={397} y={1408} size={leg}>Base forecast</T>
      <LegLine x={615} y={1382} color={OLIVE} thick={2} />
      <T x={667} y={1382} size={leg}>Actual default rate</T>
      <LegLine x={615} y={1408} color={RED} thick={2} />
      <T x={667} y={1408} size={leg}>Pessimistic case</T>
      <Panel5 />

      {/* Panel 6 texts */}
      <T x={908} y={1264} size={sub} color={TXT_GREEN}>The primary market for high-yield bonds and leveraged loans dried up</T>
      <T x={908} y={1289} size={sub} color={TXT_GREEN}>in March.</T>
      <T x={929} y={1321} size={ttl}>6. Global High-Yield Bond and Leveraged Loan New Issuance</T>
      <T x={943} y={1343} size={ttl}>(Billions of US dollars)</T>
      <LegBox x={972} y={1385} color={RED} />
      <T x={986} y={1385} size={leg}>Leveraged loans</T>
      <LegBox x={1124} y={1385} color={BAR_GREEN} />
      <T x={1138} y={1385} size={leg}>High-yield bonds</T>
      <Panel6 />

      <T x={278} y={1735} size={18.7}>Sources: Bloomberg Finance L.P.; S&amp;P Global Ratings; S&amp;P Leveraged Commentary Data; and IMF staff calculations.</T>
      <T x={278} y={1757} size={18.7}>Note: GFC=Global financial crises.</T>

      <div style={{ position: 'absolute', left: 268, top: 2034, fontFamily: FONT, fontSize: 21, fontStyle: 'italic', lineHeight: '26px' }}>6</div>
      <div style={{ position: 'absolute', left: 346, top: 2034, fontFamily: FONT, fontSize: 21, letterSpacing: 0.5, lineHeight: '26px', whiteSpace: 'nowrap' }}>International Monetary Fund | April 2020</div>
    </div>
  );
}
